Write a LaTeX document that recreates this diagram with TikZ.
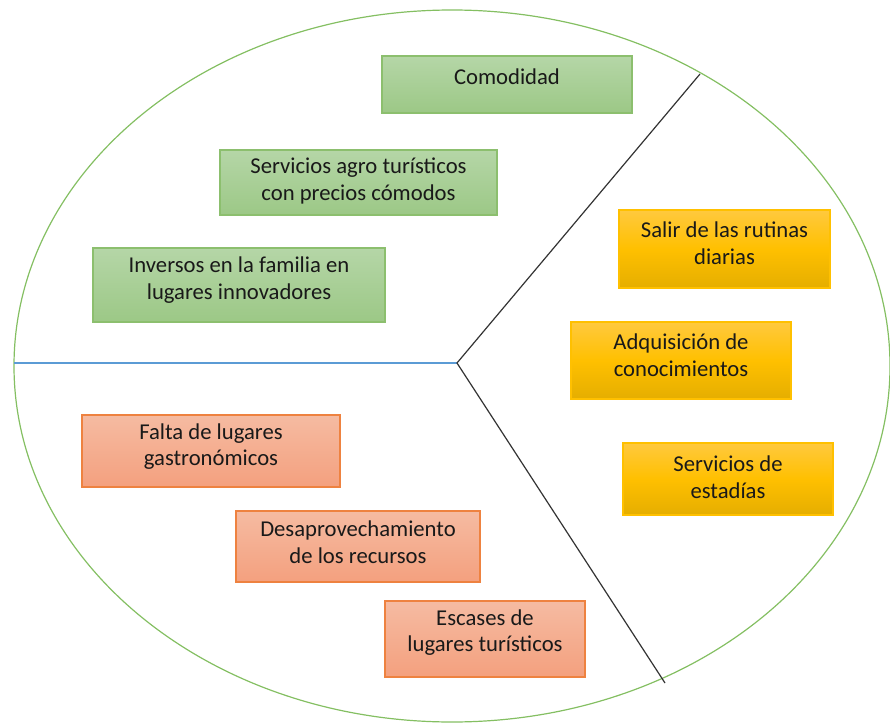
\documentclass[tikz,border=0pt]{standalone}
\usepackage{fontspec}
\setmainfont{Carlito}
\begin{document}
\begin{tikzpicture}[x=0.75pt,y=-0.75pt,
  gbox/.style={line width=0.9pt, top color=gtop, bottom color=gbot, draw=gline},
  ybox/.style={line width=0.9pt, top color=ytop, bottom color=ybot, middle color=ymid, draw=yline},
  obox/.style={line width=0.9pt, top color=otop, bottom color=obot, draw=oline},
  txt/.style={font=\fontsize{17}{20}\selectfont, align=center, text=black!90, inner sep=0pt}]
\definecolor{gtop}{HTML}{B5D6A7}
\definecolor{gbot}{HTML}{9CC886}
\definecolor{gline}{HTML}{8CBF6E}
\definecolor{ytop}{HTML}{FFC93E}
\definecolor{ymid}{HTML}{FFC000}
\definecolor{ybot}{HTML}{E5AE00}
\definecolor{yline}{HTML}{FFC000}
\definecolor{otop}{HTML}{F5BBA2}
\definecolor{obot}{HTML}{F4A07E}
\definecolor{oline}{HTML}{EE8240}
\definecolor{ell}{HTML}{84BF62}
\definecolor{blu}{HTML}{5B9BD5}
\useasboundingbox (0,0) rectangle (890,728);
\draw[ell, line width=0.9pt] (452,366) ellipse [x radius=438, y radius=356];
\coordinate (hub) at (457,363);
\coordinate (le) at (14,363);
\coordinate (ut) at (700,74);
\coordinate (lt) at (665,683);
\draw[blu, line width=0.9pt] (le) -- (hub);
\draw[black!80, line width=0.9pt] (ut) -- (hub) -- (lt);
% green
\node[gbox, minimum width=250*0.75pt, minimum height=57*0.75pt] (b1) at (507,84.5) {};
\node[txt] (t1) at (507,77) {Comodidad};
\node[gbox, minimum width=277*0.75pt, minimum height=65*0.75pt] (b2) at (358.5,182.5) {};
\node[txt] (t2) at (358.5,181) {Servicios agro turísticos\\con precios cómodos};
\node[gbox, minimum width=292*0.75pt, minimum height=74*0.75pt] (b3) at (239,285) {};
\node[txt] (t3) at (239,280) {Inversos en la familia en\\lugares innovadores};
% yellow
\node[ybox, minimum width=211*0.75pt, minimum height=78*0.75pt] (b4) at (724.5,249) {};
\node[txt] (t4) at (724.5,243.5) {Salir de las rutinas\\diarias};
\node[ybox, minimum width=220*0.75pt, minimum height=77*0.75pt] (b5) at (681,360.5) {};
\node[txt] (t5) at (681,355.5) {Adquisición de\\conocimientos};
\node[ybox, minimum width=210*0.75pt, minimum height=72*0.75pt] (b6) at (728,479) {};
\node[txt] (t6) at (728,477.5) {Servicios de\\estadías};
% orange
\node[obox, minimum width=258*0.75pt, minimum height=72*0.75pt] (b7) at (211,451) {};
\node[txt] (t7) at (211,446.5) {Falta de lugares\\gastronómicos};
\node[obox, minimum width=244*0.75pt, minimum height=71*0.75pt] (b8) at (358,546.5) {};
\node[txt] (t8) at (358,542.5) {Desaprovechamiento\\de los recursos};
\node[obox, minimum width=200*0.75pt, minimum height=76*0.75pt] (b9) at (485,639) {};
\node[txt] (t9) at (485,632.5) {Escases de\\lugares turísticos};
\end{tikzpicture}
\end{document}
